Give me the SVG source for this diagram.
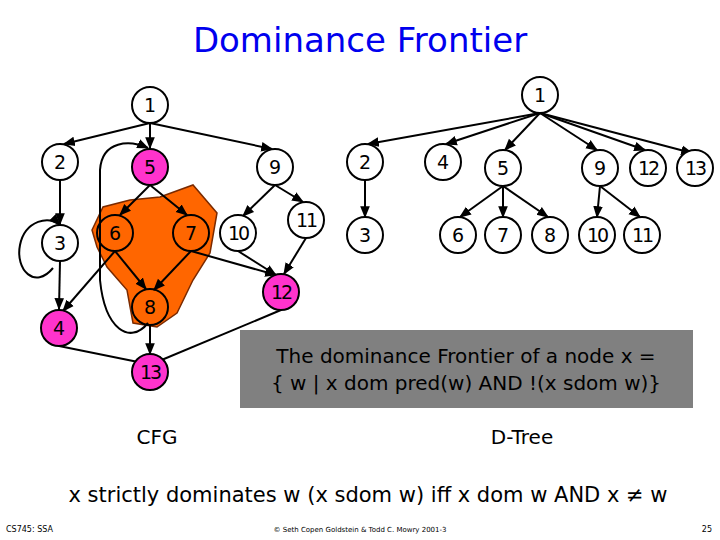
<svg xmlns="http://www.w3.org/2000/svg" width="720" height="540" viewBox="0 0 720 540">
<defs>
<marker id="a" viewBox="0 0 10 10" refX="9" refY="5" markerWidth="6" markerHeight="6" orient="auto"><path d="M0,1 L10,5 L0,9 z" fill="#000"/></marker>
<style>
.n{fill:#fff;stroke:#000;stroke-width:2}
.m{fill:#ff33cc;stroke:#000;stroke-width:2}
.o{fill:none;stroke:#000;stroke-width:2}
text{font-family:"DejaVu Sans",sans-serif}
.l{font-size:19px;text-anchor:middle;dominant-baseline:central}
.e{fill:none;stroke:#000;stroke-width:2;marker-end:url(#a)}
</style>
</defs>
<rect width="720" height="540" fill="#fff"/>
<text x="360" y="52" font-size="34" fill="#0000ee" text-anchor="middle">Dominance Frontier</text>
<path d="M92,230 L103,207 L130,200 L160,197 L193,185 L217,213 L210,253 L193,280 L177,313 L157,327 L133,323 L127,290 L107,267 L97,247 Z" fill="#ff6600" stroke="#7a2a00" stroke-width="1.5"/>
<g id="edges">
<path class="e" d="M150,123 L64,144"/>
<path class="e" d="M150,123 L150,148"/>
<path class="e" d="M150,123 L272,149"/>
<path class="e" d="M60,180 L60,224"/>
<path class="e" d="M60,261 L59,309"/>
<path class="e" d="M150,185 L120,215"/>
<path class="e" d="M150,185 L187,215"/>
<path class="e" d="M115,251 L146,289"/>
<path class="e" d="M115,251 L63,311"/>
<path class="e" d="M191,251 L154,290"/>
<path class="e" d="M191,251 L276,275"/>
<path class="e" d="M275,185 L243,216"/>
<path class="e" d="M275,185 L303,202"/>
<path class="e" d="M238,251 L276,275"/>
<path class="e" d="M306,238 L284,274"/>
<path class="e" d="M150,325 L150,354"/>
<path class="e" d="M59,346 L148,364"/>
<path class="e" d="M281,310 L152,364"/>
<path class="e" d="M53,268 C35,290 15,270 20,245 C25,220 50,215 60,225"/>
<path class="e" d="M148,323 C130,345 105,330 100,280 L100,170 C102,140 130,140 148,148"/>
<path class="e" d="M540,113 L368,144"/>
<path class="e" d="M540,113 L446,144"/>
<path class="e" d="M540,113 L505,150"/>
<path class="e" d="M540,113 L597,150"/>
<path class="e" d="M540,113 L645,150"/>
<path class="e" d="M540,113 L692,153"/>
<path class="e" d="M365,180 L365,217"/>
<path class="e" d="M503,186 L460,217"/>
<path class="e" d="M503,186 L503,217"/>
<path class="e" d="M503,186 L548,217"/>
<path class="e" d="M600,186 L597,217"/>
<path class="e" d="M600,186 L640,217"/>
</g>
<g id="cfg1"><circle class="n" cx="150" cy="105" r="18"/><text class="l" x="150" y="105">1</text></g>
<g id="cfg2"><circle class="n" cx="60" cy="162" r="18"/><text class="l" x="60" y="162">2</text></g>
<g id="cfg5"><circle class="m" cx="150" cy="167" r="18"/><text class="l" x="150" y="167">5</text></g>
<g id="cfg9"><circle class="n" cx="275" cy="167" r="18"/><text class="l" x="275" y="167">9</text></g>
<g id="cfg3"><circle class="n" cx="60" cy="243" r="18"/><text class="l" x="60" y="243">3</text></g>
<g id="cfg6"><circle class="o" cx="115" cy="233" r="18"/><text class="l" x="115" y="233">6</text></g>
<g id="cfg7"><circle class="o" cx="191" cy="233" r="18"/><text class="l" x="191" y="233">7</text></g>
<g id="cfg10"><circle class="n" cx="238" cy="233" r="18"/><text class="l" x="238" y="233" style="letter-spacing:-2px">10</text></g>
<g id="cfg11"><circle class="n" cx="306" cy="220" r="18"/><text class="l" x="306" y="220" style="letter-spacing:-2px">11</text></g>
<g id="cfg12"><circle class="m" cx="281" cy="292" r="18"/><text class="l" x="281" y="292" style="letter-spacing:-2px">12</text></g>
<g id="cfg8"><circle class="o" cx="150" cy="307" r="18"/><text class="l" x="150" y="307">8</text></g>
<g id="cfg4"><circle class="m" cx="59" cy="328" r="18"/><text class="l" x="59" y="328">4</text></g>
<g id="cfg13"><circle class="m" cx="150" cy="372" r="18"/><text class="l" x="150" y="372" style="letter-spacing:-2px">13</text></g>
<g id="dt1"><circle class="n" cx="540" cy="95" r="18"/><text class="l" x="540" y="95">1</text></g>
<g id="dt2"><circle class="n" cx="365" cy="162" r="18"/><text class="l" x="365" y="162">2</text></g>
<g id="dt4"><circle class="n" cx="443" cy="162" r="18"/><text class="l" x="443" y="162">4</text></g>
<g id="dt5"><circle class="n" cx="503" cy="168" r="18"/><text class="l" x="503" y="168">5</text></g>
<g id="dt9"><circle class="n" cx="600" cy="168" r="18"/><text class="l" x="600" y="168">9</text></g>
<g id="dt12"><circle class="n" cx="648" cy="168" r="18"/><text class="l" x="648" y="168" style="letter-spacing:-2px">12</text></g>
<g id="dt13"><circle class="n" cx="695" cy="168" r="18"/><text class="l" x="695" y="168" style="letter-spacing:-2px">13</text></g>
<g id="dt3"><circle class="n" cx="365" cy="235" r="18"/><text class="l" x="365" y="235">3</text></g>
<g id="dt6"><circle class="n" cx="458" cy="235" r="18"/><text class="l" x="458" y="235">6</text></g>
<g id="dt7"><circle class="n" cx="503" cy="235" r="18"/><text class="l" x="503" y="235">7</text></g>
<g id="dt8"><circle class="n" cx="550" cy="235" r="18"/><text class="l" x="550" y="235">8</text></g>
<g id="dt10"><circle class="n" cx="597" cy="235" r="18"/><text class="l" x="597" y="235" style="letter-spacing:-2px">10</text></g>
<g id="dt11"><circle class="n" cx="642" cy="235" r="18"/><text class="l" x="642" y="235" style="letter-spacing:-2px">11</text></g>
<g id="box">
<rect x="240" y="330" width="453" height="78" fill="#808080"/>
<text x="466" y="363" font-size="20" text-anchor="middle">The dominance Frontier of a node x =</text>
<text x="466" y="390" font-size="20" text-anchor="middle">{ w | x dom pred(w) AND !(x sdom w)}</text>
</g>
<text x="157" y="444" font-size="20" text-anchor="middle">CFG</text>
<text x="522" y="444" font-size="20" text-anchor="middle">D-Tree</text>
<text x="368" y="502" font-size="21" text-anchor="middle">x strictly dominates w (x sdom w) iff x dom w AND x ≠ w</text>
<text x="6" y="532" font-size="8">CS745: SSA</text>
<text x="360" y="532" font-size="7" text-anchor="middle">© Seth Copen Goldstein &amp; Todd C. Mowry 2001-3</text>
<text x="712" y="532" font-size="8" text-anchor="end">25</text>
</svg>
